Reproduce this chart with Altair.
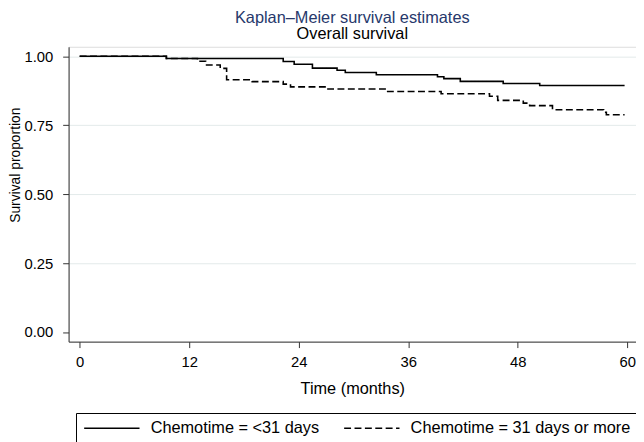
import altair as alt
import pandas as pd

FONT = "Liberation Sans, Arial, Helvetica, sans-serif"

groups = ["Chemotime = <31 days", "Chemotime = 31 days or more"]

t_short = [0, 9.5, 22.3, 23.5, 25.5, 28.2, 29.1, 32.5, 39.2, 39.9, 41.7, 46.4, 50.4, 59.7]
s_short = [1.0, 0.992, 0.981, 0.971, 0.957, 0.949, 0.941, 0.933, 0.926, 0.919, 0.909, 0.901, 0.894, 0.894]

t_long = [0, 9.5, 12.9, 13.8, 15.4, 16.1, 18.9, 22.3, 23.1, 27.2, 33.6, 39.6, 44.9, 45.8, 48.6, 49.3,
          51.8, 57.4, 57.7, 59.7]
s_long = [1.0, 0.992, 0.982, 0.968, 0.956, 0.915, 0.908, 0.899, 0.889, 0.881, 0.872, 0.864, 0.855, 0.840,
          0.830, 0.821, 0.806, 0.797, 0.788, 0.788]

x_ticks = [0, 12, 24, 36, 48, 60]
y_ticks = [0, 0.25, 0.5, 0.75, 1.0]

rows = []
for t, s in zip(t_short, s_short):
    rows.append({"group": groups[0], "t": t, "s": s})
for t, s in zip(t_long, s_long):
    rows.append({"group": groups[1], "t": t, "s": s})
df = pd.DataFrame(rows)

dash_scale = alt.Scale(domain=groups, range=[[1, 0], [7, 3.5]])

legend = alt.Legend(
    title=None, orient="none", legendX=7.5, legendY=370.5, direction="horizontal", columns=2,
    symbolType="M-4,0H4", symbolSize=196, symbolOffset=21, symbolStrokeWidth=1.5,
    symbolStrokeColor="black", labelOffset=31, columnPadding=21, padding=7,
    strokeColor="black", fillColor="white", labelFontSize=16.5, labelFont=FONT,
    labelColor="black", labelLimit=0,
)

lines = alt.Chart(df).mark_line(color="black", strokeWidth=1.6, interpolate="step-after").encode(
    x=alt.X("t:Q", scale=alt.Scale(domain=[-1.213, 60.95], nice=False, zero=False),
            axis=alt.Axis(values=x_ticks, title="Time (months)", grid=False, tickSize=6,
                          labelPadding=7, labelFontSize=15, titleFontSize=16.5,
                          titleFontWeight="normal", titleY=52, titleBaseline="alphabetic",
                          domainColor="#333333", tickColor="#333333", labelColor="black",
                          titleColor="black", labelFont=FONT, titleFont=FONT,
                          labelFlush=False, labelOverlap=False)),
    y=alt.Y("s:Q", scale=alt.Scale(domain=[-0.0348, 1.0344], nice=False, zero=False),
            axis=alt.Axis(values=y_ticks, format=".2f", title="Survival proportion", tickSize=6,
                          labelPadding=10, labelFontSize=15, titleFontSize=14,
                          titleFontWeight="normal", titleAngle=270, titleAlign="center",
                          titleBaseline="middle", titleX=-53.3, titleY=119.3,
                          grid=True, gridColor="#e3eaea",
                          gridOpacity={"condition": {"test": "datum.value === 0", "value": 0}, "value": 1},
                          domainColor="#333333", tickColor="#333333", labelColor="black",
                          titleColor="black", labelFont=FONT, titleFont=FONT,
                          labelFlush=False, labelOverlap=False)),
    strokeDash=alt.StrokeDash("group:N", scale=dash_scale, legend=legend),
    detail="group:N",
)

chart = lines.properties(
    width=574, height=298.3,
    autosize=alt.AutoSizeParams(type="none"),
    padding={"left": 61.3, "top": 36.7, "right": 0, "bottom": 99.3},
    title=alt.TitleParams(
        text="Kaplan\u2013Meier survival estimates", subtitle="Overall survival",
        anchor="middle", frame="group", fontSize=16.5, subtitleFontSize=16.5,
        fontWeight="normal", color="#27386b", subtitleColor="black",
        font=FONT, subtitleFont=FONT, offset=3.9, subtitlePadding=0,
    ),
).configure_view(strokeWidth=0).configure(background="white")

chart.save("out.html", embed_options={"renderer": "svg", "actions": False})
